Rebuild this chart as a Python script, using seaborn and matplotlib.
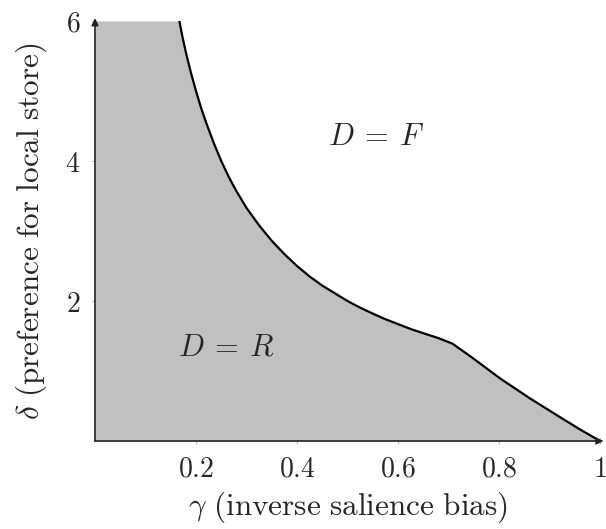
import numpy as np
import pandas as pd
import matplotlib
matplotlib.use("Agg")
import matplotlib.pyplot as plt
import seaborn as sns

# boundary curve (gamma, delta)
gamma = [0.167, 0.173, 0.18, 0.19, 0.20, 0.21, 0.22, 0.235, 0.25, 0.265, 0.28,
         0.30, 0.325, 0.35, 0.375, 0.40, 0.425, 0.45, 0.475, 0.50, 0.525,
         0.55, 0.575, 0.60, 0.625, 0.65, 0.68, 0.708, 0.749, 0.802, 0.861,
         0.921, 0.960, 1.0]
delta = [6.0, 5.78, 5.55, 5.26, 5.0, 4.76, 4.55, 4.26, 4.0, 3.77, 3.57,
         3.33, 3.08, 2.86, 2.67, 2.5, 2.35, 2.22, 2.11, 2.0, 1.905,
         1.82, 1.74, 1.67, 1.60, 1.54, 1.47, 1.39, 1.18, 0.895, 0.61,
         0.34, 0.167, 0.0]

xticks = [0.2, 0.4, 0.6, 0.8, 1.0]
xticklabels = ["0.2", "0.4", "0.6", "0.8", "1"]
yticks = [2, 4, 6]
yticklabels = ["2", "4", "6"]

region_labels = [r"$D\:=\:F$", r"$D\:=\:R$"]
region_x = [0.556, 0.261]
region_y = [4.35, 1.35]

sns.set_theme(style="white")
plt.rcParams["mathtext.fontset"] = "cm"
plt.rcParams["font.family"] = ["DejaVu Serif"]

df = pd.DataFrame({"gamma": gamma, "delta": delta})

fig = plt.figure(figsize=(6.06, 5.29), dpi=100)
ax = fig.add_axes([95 / 606, 1 - 441 / 529, 505 / 606, 420 / 529])

fx = [0.0] + gamma
fy = [6.0] + delta
ax.fill_between(fx, 0, fy, color="#c0c0c0", linewidth=0, zorder=1)
sns.lineplot(data=df, x="gamma", y="delta", ax=ax, color="black",
             linewidth=1.6, sort=False, zorder=3)

ax.set_xlim(0, 1)
ax.set_ylim(0, 6)
for s in ax.spines.values():
    s.set_visible(False)

# axes with arrows
ax.annotate("", xy=(1.007, 0), xytext=(0, 0), xycoords=("axes fraction", "data"),
            textcoords=("axes fraction", "data"), annotation_clip=False,
            arrowprops=dict(arrowstyle="-|>", color="#222222", lw=1.2,
                            mutation_scale=10, shrinkA=0, shrinkB=0), zorder=4)
ax.annotate("", xy=(0, 6.04), xytext=(0, 0), annotation_clip=False,
            arrowprops=dict(arrowstyle="-|>", color="#222222", lw=1.2,
                            mutation_scale=10, shrinkA=0, shrinkB=0), zorder=4)

ax.set_xticks(xticks)
ax.set_xticklabels(["$" + t + "$" for t in xticklabels], fontsize=20)
ax.set_yticks(yticks)
ax.set_yticklabels(["$" + t + "$" for t in yticklabels], fontsize=20)
ax.tick_params(axis="both", direction="inout", length=5, width=0.8,
               color="#bbbbbb", pad=8, left=True, bottom=True)

ax.set_xlabel(r"$\gamma\ \mathrm{(inverse\ salience\ bias)}$", fontsize=22.5, labelpad=5)
ax.set_ylabel(r"$\delta\ \mathrm{(preference\ for\ local\ store)}$", fontsize=22.5, labelpad=12)

for t, x, y in zip(region_labels, region_x, region_y):
    ax.text(x, y, t, fontsize=22, ha="center", va="center", zorder=5)

fig.savefig("out.png", dpi=100)
